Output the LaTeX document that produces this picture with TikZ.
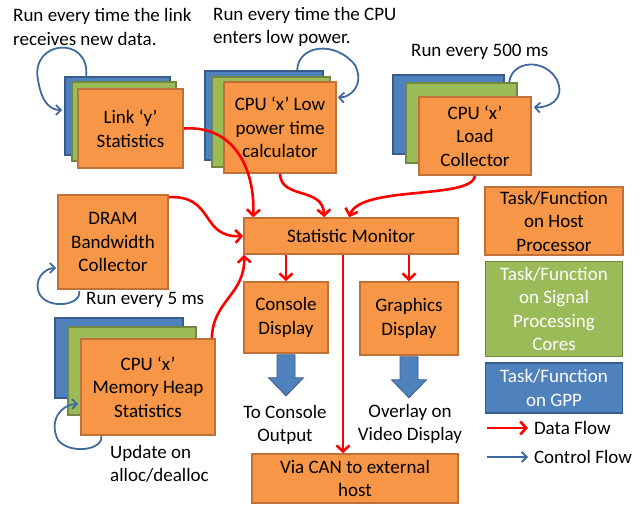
\documentclass[tikz,border=0pt]{standalone}
\usepackage{fontspec}
\setmainfont{Carlito}
\usetikzlibrary{arrows.meta,positioning,calc}
\definecolor{hostfill}{HTML}{F79646}
\definecolor{hostline}{HTML}{BF7138}
\definecolor{sigfill}{HTML}{9BBB59}
\definecolor{sigline}{HTML}{71893F}
\definecolor{gppfill}{HTML}{4F81BD}
\definecolor{gppline}{HTML}{385D8A}
\definecolor{ctrl}{HTML}{3E6A9E}

\begin{document}
\begin{tikzpicture}[x=1pt,y=-1pt,
    font=\fontsize{19}{23.5}\selectfont,
    box/.style={line width=1.6pt,align=center,inner sep=1pt},
    host/.style={box,draw=hostline,fill=hostfill},
    sigp/.style={box,draw=sigline,fill=sigfill,text=white},
    gpp/.style={box,draw=gppline,fill=gppfill,text=white},
    data/.style={->,>={Straight Barb[length=6pt,width=13pt]},draw=red,line width=2.6pt},
    ctrlflow/.style={->,>={Straight Barb[length=5pt,width=10pt]},draw=ctrl,line width=1.8pt},
    blockarr/.style={fill=gppfill,draw=gppline,line width=0.8pt},
    lbl/.style={inner sep=0pt}]
    \useasboundingbox (0,0) rectangle (644,506);

    % Notes
    \node[lbl,align=left,anchor=west] (linkNote) at (13,27) {Run every time the link\\receives new data.};
    \node[lbl,align=left,anchor=west] (cpuNote) at (213,27) {Run every time the CPU\\enters low power.};
    \node[lbl,anchor=west] (loadNote) at (411,52) {Run every 500 ms};
    \node[lbl,anchor=west] (dramNote) at (86,300) {Run every 5 ms};
    \node[lbl,align=left,anchor=west] (memNote) at (110,464) {Update on\\alloc/dealloc};
    \node[lbl,align=center] (consoleNote) at (285,425) {To Console\\Output};
    \node[lbl,align=center] (gfxNote) at (410,424) {Overlay on\\Video Display};

    % Stacked tasks
    \node[gpp,minimum width=105,minimum height=78] (linkB) at (117.5,116) {};
    \node[sigp,minimum width=104,minimum height=79] (linkG) at (124,121.5) {};
    \node[host,minimum width=105,minimum height=79] (link) at (130.5,128.5) {Link ‘y’\\Statistics};

    \node[gpp,minimum width=118,minimum height=89] (cpuB) at (264,115.5) {};
    \node[sigp,minimum width=118,minimum height=90] (cpuG) at (271,122) {};
    \node[host,minimum width=112,minimum height=91] (cpu) at (280,127.5) {CPU ‘x’ Low\\power time\\calculator};

    \node[gpp,minimum width=111,minimum height=79] (loadB) at (448.5,114.5) {};
    \node[sigp,minimum width=111,minimum height=80] (loadG) at (461.5,123) {};
    \node[host,minimum width=112,minimum height=78] (load) at (475,136) {CPU ‘x’\\Load\\Collector};

    \node[gpp,minimum width=128,minimum height=80] (memB) at (119,358) {};
    \node[sigp,minimum width=128,minimum height=88] (memG) at (132,371) {};
    \node[host,minimum width=134,minimum height=96] (mem) at (148,387) {CPU ‘x’\\Memory Heap\\Statistics};

    % Single tasks
    \node[host,minimum width=110,minimum height=94] (dram) at (113,242) {DRAM\\Bandwidth\\Collector};
    \node[host,minimum width=214,minimum height=36] (stat) at (351,236) {Statistic Monitor};
    \node[host,minimum width=84,minimum height=71] (console) at (286,317.5) {Console\\Display};
    \node[host,minimum width=98,minimum height=73] (graphics) at (409,318.5) {Graphics\\Display};
    \node[host,minimum width=206,minimum height=49] (can) at (355,478.5) {Via CAN to external\\host};

    % Legend
    \node[host,minimum width=138,minimum height=68] (hostkey) at (554,221) {Task/Function\\on Host\\Processor};
    \node[sigp,minimum width=137,minimum height=95,below=5pt of hostkey] (sigkey) {Task/Function\\on Signal\\Processing\\Cores};
    \node[gpp,minimum width=137,minimum height=50,below=5pt of sigkey] (gppkey) {Task/Function\\on GPP};
    \coordinate (datakey) at (487,428);
    \node[lbl,anchor=west,outer sep=6pt] (datatxt) at (528,428) {Data Flow};
    \coordinate (ctrlkey) at (487,457);
    \node[lbl,anchor=west,outer sep=6pt] (ctrltxt) at (528,457) {Control Flow};
    \draw[data] (datakey) -- (datatxt);
    \draw[ctrlflow] (ctrlkey) -- (ctrltxt);

    % Control flow loops
    \draw[ctrlflow] ($(linkB.north west)+(22,0)$) .. controls (90,35) and (30,40) .. (38,80)
        .. controls (42,105) and (52,110) .. ($(linkB.west)+(-2,-6)$);
    \draw[ctrlflow] ($(cpuB.north west)+(93,0)$) .. controls (298,45) and (335,40) .. (355,65)
        .. controls (365,85) and (350,98) .. ($(cpu.north east)+(1,16)$);
    \draw[ctrlflow] ($(loadG.north west)+(104,0)$) .. controls (512,60) and (545,58) .. (557,80)
        .. controls (566,100) and (548,108) .. ($(load.north east)+(2,11)$);
    \draw[ctrlflow] ($(dram.south west)+(22,1)$) .. controls (82,305) and (50,310) .. (40,295)
        .. controls (32,280) and (45,268) .. ($(dram.west)+(-1,26)$);
    \draw[ctrlflow] ($(mem.south west)+(21,0)$) .. controls (104,450) and (70,455) .. (58,440)
        .. controls (48,420) and (62,404) .. ($(mem.west)+(-2,17)$);

    % Data flow
    \draw[data] (link.east) .. controls (235,125) and (255,170) .. ($(stat.north west)+(10,0)$);
    \draw[data] (cpu.south) .. controls (281,200) and (323,186) .. ($(stat.north west)+(81,0)$);
    \draw[data] (load.south) .. controls (472,200) and (360,185) .. ($(stat.north west)+(106,0)$);
    \draw[data] ($(dram.north east)+(0,3)$) .. controls (215,195) and (200,238) .. (stat.west);
    \draw[data] ($(mem.north east)+(-4,0)$) .. controls (213,300) and (245,295) .. ($(stat.south west)+(1,0)$);
    \draw[data] (stat.south -| console) -- (console);
    \draw[data] (stat.south -| graphics) -- (graphics);
    \draw[data] ($(stat.south)+(-8,0)$) -- ($(can.north)+(-12,0)$);

    % Outputs
    \path[blockarr] ($(console.south)+(-9,1)$) -- ++(18,0) -- ++(0,23) -- ++(8.5,0)
        -- ++(-17.5,18) -- ++(-17.5,-18) -- ++(8.5,0) -- cycle;
    \path[blockarr] ($(graphics.south)+(-9,1)$) -- ++(18,0) -- ++(0,23) -- ++(8.5,0)
        -- ++(-17.5,18) -- ++(-17.5,-18) -- ++(8.5,0) -- cycle;
\end{tikzpicture}
\end{document}
